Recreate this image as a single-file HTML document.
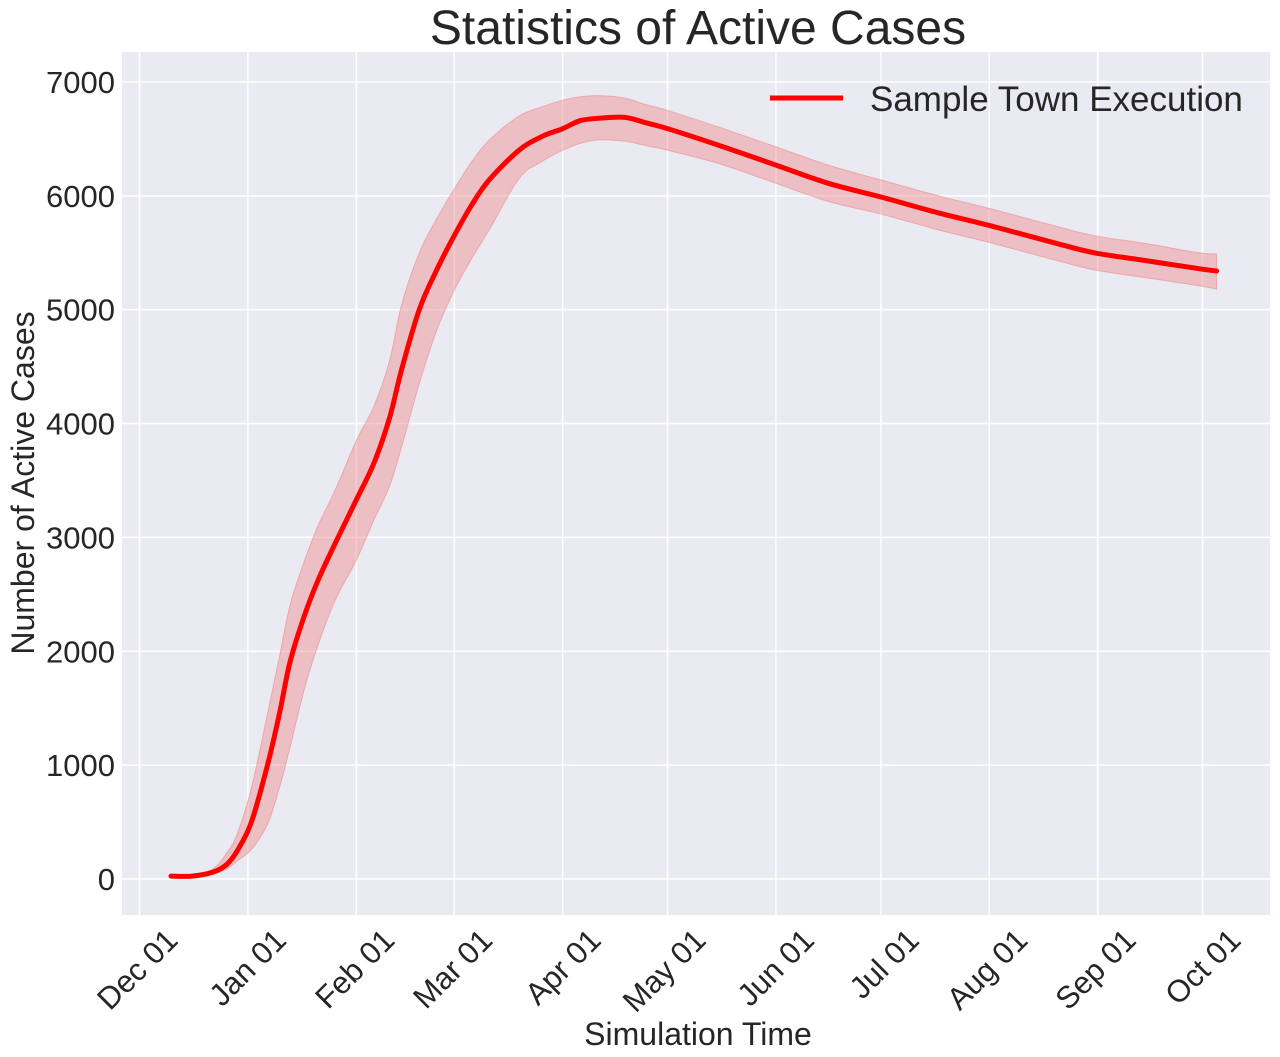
<!DOCTYPE html>
<html><head><meta charset="utf-8"><style>
html,body{margin:0;padding:0;background:#fff;}
svg{display:block;font-family:"Liberation Sans",sans-serif;}
</style></head><body>
<svg id="chart" width="1280" height="1057" xmlns="http://www.w3.org/2000/svg">
<rect x="122" y="52" width="1148" height="863" fill="#eaeaf2"/>
<g id="grid"></g><g id="series"></g><g id="axes"></g>
<text x="698" y="44" font-size="48" text-anchor="middle" fill="#262626">Statistics of Active Cases</text>
<text x="698" y="1045" font-size="32" text-anchor="middle" fill="#262626">Simulation Time</text>
<text transform="translate(34,483) rotate(-90)" font-size="32" text-anchor="middle" fill="#262626">Number of Active Cases</text>
<g>
<line x1="770" y1="98" x2="843" y2="98" stroke="#ff0000" stroke-width="5"/>
<text x="870" y="111" font-size="35" fill="#262626">Sample Town Execution</text>
</g>
</svg>
<script>
const days=[9,15,21,25,28,32,36.6,40,43,47,51,56,62,67,71.5,75,80,85,90,95,100,108.5,115,121,126,131,138.5,145,151,166,182,197,212,228.5,243,262.5,273,288,303,308];
const meanVals=[25,25,60,130,250,500,1000,1450,1900,2300,2620,2950,3330,3650,4050,4480,5000,5350,5650,5920,6140,6400,6520,6590,6660,6680,6690,6640,6590,6440,6270,6110,5990,5850,5740,5580,5500,5430,5360,5340];
const upperVals=[25,28,90,230,400,800,1450,1950,2400,2780,3100,3420,3850,4150,4550,5050,5500,5800,6060,6300,6490,6700,6780,6840,6870,6880,6860,6800,6750,6600,6430,6270,6140,6000,5890,5730,5650,5580,5500,5490];
const lowerVals=[25,22,45,90,160,260,480,800,1150,1650,2050,2450,2800,3150,3450,3800,4350,4820,5170,5450,5700,6150,6300,6400,6460,6490,6480,6440,6400,6280,6110,5950,5840,5700,5590,5430,5350,5280,5210,5180];
const xTickDays=[0,31,62,90,121,151,182,212,243,274,304];
const xTickLabels=["Dec 01","Jan 01","Feb 01","Mar 01","Apr 01","May 01","Jun 01","Jul 01","Aug 01","Sep 01","Oct 01"];
const yTicks=[0,1000,2000,3000,4000,5000,6000,7000];

const NS="http://www.w3.org/2000/svg";
const X=d=>139.5+d*3.497;
const Y=v=>879-v*0.11386;
function mk(tag,attrs,parent){const e=document.createElementNS(NS,tag);for(const k in attrs)e.setAttribute(k,attrs[k]);parent.appendChild(e);return e;}
function smooth(pts,start){
  let d=start?'M'+pts[0][0]+','+pts[0][1]:'L'+pts[0][0]+','+pts[0][1];
  for(let i=0;i<pts.length-1;i++){
    const p0=pts[Math.max(0,i-1)],p1=pts[i],p2=pts[i+1],p3=pts[Math.min(pts.length-1,i+2)];
    const c1=[p1[0]+(p2[0]-p0[0])/6,p1[1]+(p2[1]-p0[1])/6];
    const c2=[p2[0]-(p3[0]-p1[0])/6,p2[1]-(p3[1]-p1[1])/6];
    d+=`C${c1[0]},${c1[1]} ${c2[0]},${c2[1]} ${p2[0]},${p2[1]}`;
  }
  return d;
}
const grid=document.getElementById('grid'),series=document.getElementById('series'),axes=document.getElementById('axes');
xTickDays.forEach((d,i)=>{
  const l=mk('line',{x1:X(d),x2:X(d),y1:52,y2:915,stroke:'#fff','stroke-width':1.5},grid);
  
  
  const t=mk('text',{transform:`translate(${X(d)+40},942) rotate(-45)`,'font-size':31,'text-anchor':'end',fill:'#262626'},axes);
  t.textContent=xTickLabels[i];
  
  
});
yTicks.forEach(v=>{
  const l=mk('line',{x1:122,x2:1270,y1:Y(v),y2:Y(v),stroke:'#fff','stroke-width':1.5},grid);
  
  
  const t=mk('text',{x:115,y:Y(v)+11,'font-size':31,'text-anchor':'end',fill:'#262626'},axes);
  t.textContent=v;
  
  
});
const up=days.map((d,i)=>[X(d),Y(upperVals[i])]);
const lo=days.map((d,i)=>[X(d),Y(lowerVals[i])]).reverse();
const band=mk('path',{d:smooth(up,true)+smooth(lo,false)+'Z',fill:'#f08080','fill-opacity':0.4,stroke:'#f08080','stroke-opacity':0.5},series);


const ml=mk('path',{d:smooth(days.map((d,i)=>[X(d),Y(meanVals[i])]),true),fill:'none',stroke:'#ff0000','stroke-width':5,'stroke-linejoin':'round','stroke-linecap':'round'},series);


</script>
</body></html>
